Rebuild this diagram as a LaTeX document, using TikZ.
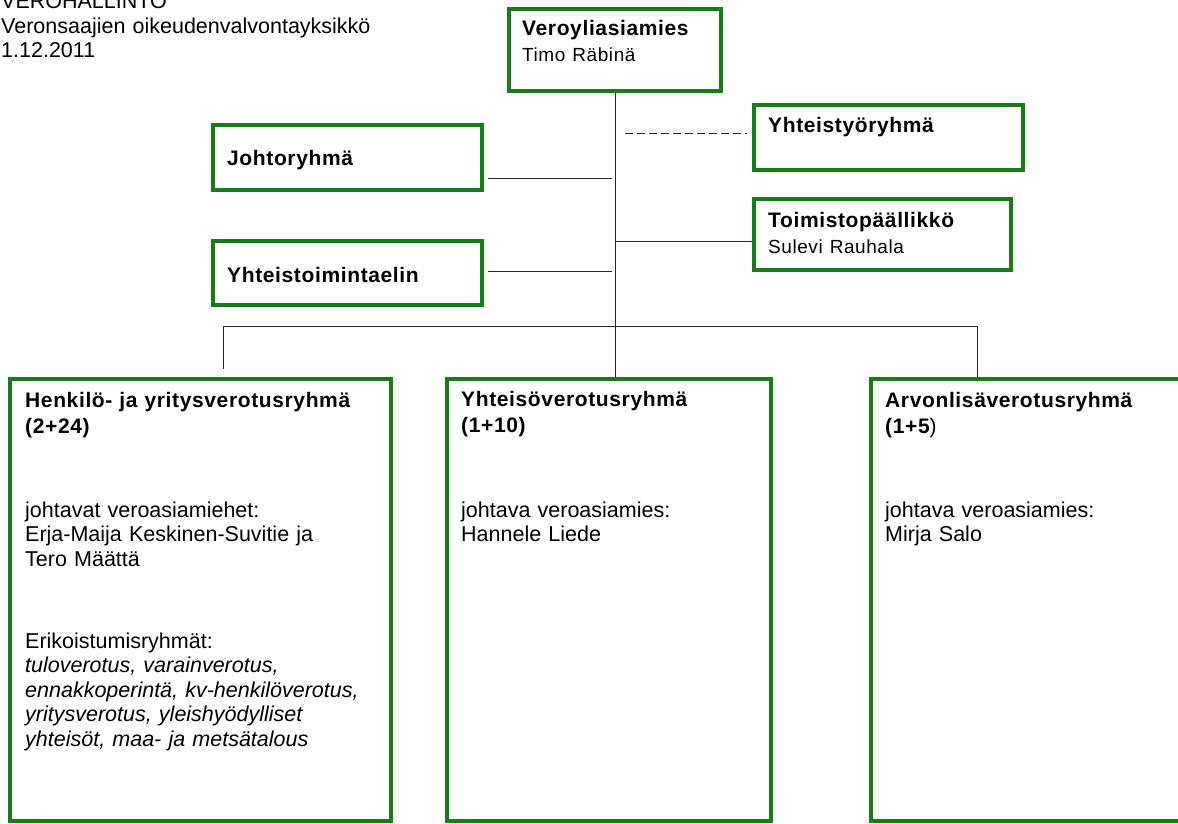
\documentclass[tikz,border=0pt]{standalone}
\usepackage{fontspec}
\setmainfont{Liberation Sans}
\newfontfamily\headfam[LetterSpace=3]{Liberation Sans}
\newcommand\bodyfont{\fontsize{21.5}{24.5}\selectfont}
\newcommand\headfont{\headfam\bfseries\fontsize{21}{26}\selectfont}
\newcommand\namefont{\mdseries\fontsize{19}{26}\selectfont}
\definecolor{orggreen}{RGB}{22,124,22}
\tikzset{
  unit/.style={draw=orggreen, line width=4pt, anchor=north west, inner sep=0pt},
  txt/.style={anchor=base west, inner sep=0pt, text width=#1, align=left, font=\bodyfont},
  txt/.default=360pt,
  headtxt/.style={txt, font=\headfont},
  link/.style={draw=black!85, line width=1pt},
}
\begin{document}
\begin{tikzpicture}[x=1pt,y=-1pt]
		\useasboundingbox (0,0) rectangle (1178,824);
		% otsikko
		\node[txt=420pt] (head) at (1,9) {VEROHALLINTO\\Veronsaajien oikeudenvalvontayksikkö\\1.12.2011};
		% laatikot
		\node[unit, minimum width=212pt, minimum height=82pt] (vero) at (507,7) {};
		\node[unit, minimum width=269pt, minimum height=65pt] (ytr) at (752,103) {};
		\node[unit, minimum width=257pt, minimum height=71pt] (tp) at (752,197) {};
		\node[unit, minimum width=269pt, minimum height=65pt] (jr) at (211,123) {};
		\node[unit, minimum width=269pt, minimum height=64pt] (yte) at (211,239) {};
		\node[unit, minimum width=381pt, minimum height=442pt] (hy) at (8,377) {};
		\node[unit, minimum width=324pt, minimum height=442pt] (yv) at (445,377) {};
		\node[unit, minimum width=330pt, minimum height=442pt] (alv) at (869,377) {};
		% tekstit
		\node[headtxt] (verotxt) at (522,36) {Veroyliasiamies\\{\namefont Timo Räbinä}};
		\node[headtxt] (ytrtxt) at (768,132) {Yhteistyöryhmä};
		\node[headtxt] (tptxt) at (768,227) {Toimistopäällikkö\\{\namefont Sulevi Rauhala}};
		\node[headtxt] (jrtxt) at (227,165) {Johtoryhmä};
		\node[headtxt] (ytetxt) at (227,282) {Yhteistoimintaelin};
		\node[headtxt] (hyhead) at (25,407) {Henkilö- ja yritysverotusryhmä\\(2+24)};
		\node[txt] (hylead) at (25,517) {johtavat veroasiamiehet:\\Erja-Maija Keskinen-Suvitie ja\\Tero Määttä};
		\node[txt] (hyspec) at (25,648) {Erikoistumisryhmät:\\\itshape tuloverotus, varainverotus,\\ennakkoperintä, kv-henkilöverotus,\\yritysverotus, yleishyödylliset\\yhteisöt, maa- ja metsätalous};
		\node[headtxt] (yvhead) at (461,406) {Yhteisöverotusryhmä\\(1+10)};
		\node[txt] (yvlead) at (461,517) {johtava veroasiamies:\\Hannele Liede};
		\node[headtxt] (alvhead) at (885,407) {Arvonlisäverotusryhmä\\(1+5{\mdseries)}};
		\node[txt] (alvlead) at (885,517) {johtava veroasiamies:\\Mirja Salo};
		% yhteydet
		\coordinate (jrjoin) at (612,178);
		\coordinate (ytejoin) at (612,271);
		\coordinate (ytrjoin) at (625,134);
		\coordinate (tpjoin) at (616,241);
		\coordinate (busl) at (223,326);
		\coordinate (busr) at (977,326);
		\draw[link] (vero.south) -- (vero.south |- yv.north);
		\draw[link] ([xshift=4pt]jr.east |- jrjoin) -- (jrjoin);
		\draw[link] ([xshift=4pt]yte.east |- ytejoin) -- (ytejoin);
		\draw[link, dash pattern=on 8pt off 4pt] (ytrjoin) -- ([xshift=-5pt]ytr.west |- ytrjoin);
		\draw[link] (tpjoin) -- (tp.west |- tpjoin);
		\draw[link] ([yshift=8pt]busl |- hy.north) -- (busl) -- (busr) -- (busr |- alv.north);
\end{tikzpicture}
\end{document}
